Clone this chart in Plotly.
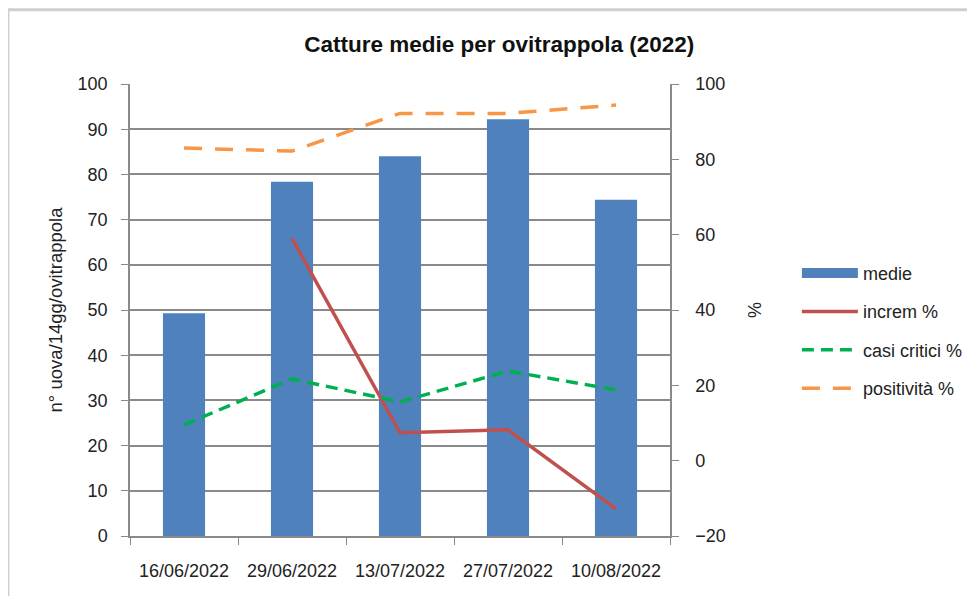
"""
Catture medie per ovitrappola (2022)
------------------------------------
Bar + line combo chart with a secondary % axis.
"""

import plotly.graph_objects as go


# ==============================
# Data
# ==============================

dates = ["16/06/2022", "29/06/2022", "13/07/2022", "27/07/2022", "10/08/2022"]
medie = [49.3, 78.4, 84.0, 92.2, 74.4]
increm = [None, 59.0, 7.4, 8.2, -12.8]
casi_critici = [9.5, 21.7, 15.6, 23.8, 18.8]
positivita = [83.0, 82.2, 92.2, 92.2, 94.4]

FONT = "Liberation Sans"
GRID = "#8a8a8a"
BLUE = "#4F81BD"


# ==============================
# Figure
# ==============================

fig = go.Figure()

fig.add_trace(go.Bar(
    x=dates, y=medie, name="medie",
    marker=dict(color=BLUE, line=dict(width=0)),
    showlegend=False,
))

# legend entry for the bars (wide bar swatch like the original)
fig.add_trace(go.Scatter(
    x=[None], y=[None], name="medie", mode="lines",
    line=dict(color=BLUE, width=10),
    legendgroup="a",
))

fig.add_trace(go.Scatter(
    x=dates, y=increm, name="increm %", yaxis="y2", mode="lines",
    line=dict(color="#C0504D", width=3.5),
    connectgaps=False, legendgroup="b",
))

fig.add_trace(go.Scatter(
    x=dates, y=casi_critici, name="casi critici %", yaxis="y2", mode="lines",
    line=dict(color="#00B050", width=3.5, dash="12px,7px"),
    legendgroup="c",
))

fig.add_trace(go.Scatter(
    x=dates, y=positivita, name="positività %", yaxis="y2", mode="lines",
    line=dict(color="#F79646", width=3.5, dash="18px,13px"),
    legendgroup="d",
))

fig.update_layout(
    width=967,
    height=588,
    margin=dict(l=122, r=305, t=76, b=60, autoexpand=False),
    paper_bgcolor="white",
    plot_bgcolor="white",
    font=dict(family=FONT, size=18, color="#222"),
    bargap=0.61,
    title=dict(
        text="<b>Catture medie per ovitrappola (2022)</b>",
        x=0.508, xanchor="center", y=0.939, yanchor="middle",
        font=dict(size=22.5, color="#111"),
    ),
    xaxis=dict(
        type="category",
        showline=True, linecolor=GRID, linewidth=1.5,
        ticks="outside", tickson="boundaries", ticklen=7, tickcolor=GRID,
        ticklabelstandoff=18,
        tickfont=dict(size=18, color="#222"),
        showgrid=False, automargin=False,
    ),
    yaxis=dict(
        title=dict(text="n° uova/14gg/ovitrappola", font=dict(size=18.5), standoff=10),
        range=[0, 100], dtick=10,
        showline=True, linecolor=GRID, linewidth=1.5,
        ticks="outside", ticklen=7, tickcolor=GRID,
        ticklabelstandoff=10,
        showgrid=True, gridcolor=GRID, gridwidth=1.5,
        zeroline=False, automargin=False,
    ),
    yaxis2=dict(
        title=dict(text="%", font=dict(size=18), standoff=24),
        overlaying="y", side="right",
        range=[-20, 100], dtick=20,
        showline=True, linecolor=GRID, linewidth=1.5,
        ticks="outside", ticklen=7, tickcolor=GRID,
        ticklabelstandoff=13,
        showgrid=False, zeroline=False, automargin=False,
    ),
    legend=dict(
        x=1.235, y=0.622, xanchor="left", yanchor="top",
        bgcolor="rgba(0,0,0,0)",
        font=dict(size=18),
        itemwidth=56,
        tracegroupgap=12,
        traceorder="grouped",
    ),
    shapes=[
        dict(
            type="rect", xref="paper", yref="paper",
            x0=-0.226, x1=1.9, y0=-0.3, y1=1.164,
            line=dict(color="#cfcfcf", width=3),
            fillcolor="rgba(0,0,0,0)", layer="below",
        )
    ],
)

fig.write_html("out.html")
